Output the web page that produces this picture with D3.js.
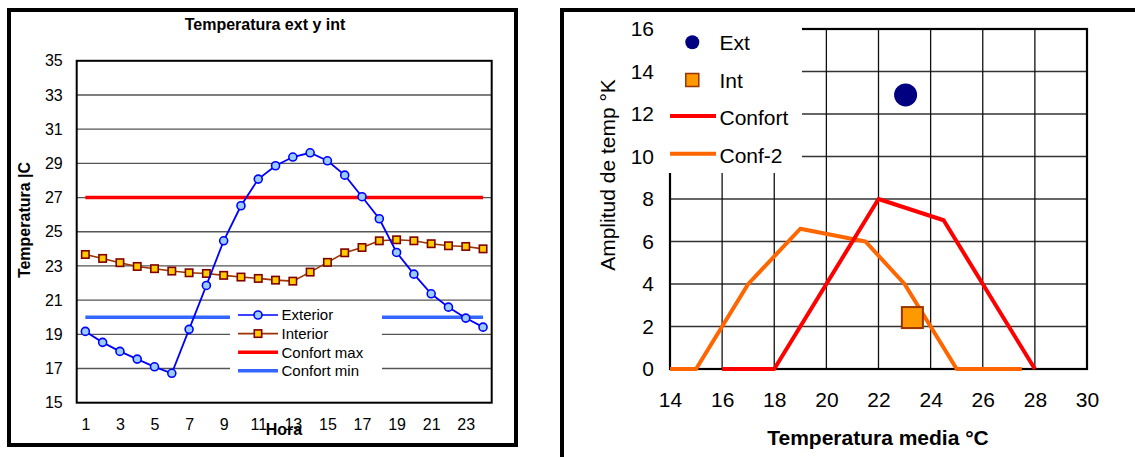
<!DOCTYPE html>
<html>
<head>
<meta charset="utf-8">
<script src="https://cdn.jsdelivr.net/npm/d3@7"></script>
<style>
  html, body { margin: 0; padding: 0; background: #fff; }
  svg { display: block; font-family: "Liberation Sans", Arial, Helvetica, sans-serif; }
</style>
</head>
<body>
<svg id="chart" width="1135" height="457"></svg>
<script>
// ---- Hourly temperatures (left panel) ----
const hours = [1, 2, 3, 4, 5, 6, 7, 8, 9, 10, 11, 12, 13, 14, 15, 16, 17, 18, 19, 20, 21, 22, 23, 24];
const exterior = [19.17, 18.53, 18.0, 17.55, 17.1, 16.72, 19.29, 21.86, 24.47, 26.52, 28.08, 28.86,
                  29.37, 29.62, 29.15, 28.31, 27.05, 25.76, 23.79, 22.52, 21.37, 20.59, 19.95, 19.42];
const interior = [23.67, 23.44, 23.19, 22.97, 22.84, 22.70, 22.60, 22.56, 22.45, 22.35, 22.27, 22.17,
                  22.11, 22.64, 23.21, 23.77, 24.08, 24.47, 24.53, 24.47, 24.30, 24.18, 24.14, 24.00];
const confortMax = [27, 27, 27, 27, 27, 27, 27, 27, 27, 27, 27, 27, 27, 27, 27, 27, 27, 27, 27, 27, 27, 27, 27, 27];
const confortMin = [20, 20, 20, 20, 20, 20, 20, 20, 20, 20, 20, 20, 20, 20, 20, 20, 20, 20, 20, 20, 20, 20, 20, 20];
const tempTicks = [15, 17, 19, 21, 23, 25, 27, 29, 31, 33, 35];
const hourTicks = [1, 3, 5, 7, 9, 11, 13, 15, 17, 19, 21, 23];

// ---- Mean temperature vs. daily amplitude (right panel) ----
const mediaTicks = [14, 16, 18, 20, 22, 24, 26, 28, 30];
const amplitudTicks = [0, 2, 4, 6, 8, 10, 12, 14, 16];
const confortMedia = [16, 18, 22, 24.5, 28];
const confortAmplitud = [0, 0, 8, 7, 0];
const conf2Media = [14, 15, 17, 19, 21.5, 23, 25, 27.5];
const conf2Amplitud = [0, 0, 4, 6.6, 6, 4, 0, 0];
const extMedia = [23.04];
const extAmplitud = [12.9];
const intMedia = [23.3];
const intAmplitud = [2.42];

const svg = d3.select("#chart");

// =================== LEFT PANEL ===================
(function () {
  const L = { left: 76.7, right: 491.7, top: 60.8, bottom: 402.7 };
  const g = svg.append("g");

  // outer frame
  g.append("rect").attr("x", 9).attr("y", 10).attr("width", 507).attr("height", 435)
    .attr("fill", "#fff").attr("stroke", "#000").attr("stroke-width", 4);

  const x = d3.scalePoint().domain(hours).range([L.left, L.right]).padding(0.5);
  const y = d3.scaleLinear().domain([15, 35]).range([L.bottom, L.top]);

  // horizontal grid
  g.append("g").selectAll("line").data(tempTicks.filter(t => t > 15 && t < 35)).join("line")
    .attr("x1", L.left).attr("x2", L.right)
    .attr("y1", d => y(d)).attr("y2", d => y(d))
    .attr("stroke", "#555").attr("stroke-width", 1.3);

  // plot border
  g.append("rect").attr("x", L.left).attr("y", L.top)
    .attr("width", L.right - L.left).attr("height", L.bottom - L.top)
    .attr("fill", "none").attr("stroke", "#000").attr("stroke-width", 2);

  // y tick labels
  const yAxis = g.append("g").attr("transform", `translate(${L.left},0)`)
    .call(d3.axisLeft(y).tickValues(tempTicks).tickSize(0).tickPadding(14).tickFormat(d3.format("d")));
  yAxis.select(".domain").remove();
  yAxis.selectAll("text").attr("font-size", 16).attr("fill", "#000")
    .attr("font-family", "Liberation Sans, Arial, sans-serif");

  // x tick labels
  const xAxis = g.append("g").attr("transform", `translate(0,${L.bottom})`)
    .call(d3.axisBottom(x).tickValues(hourTicks).tickSize(0).tickPadding(15.5));
  xAxis.select(".domain").remove();
  xAxis.selectAll("text").attr("font-size", 16).attr("fill", "#000")
    .attr("font-family", "Liberation Sans, Arial, sans-serif");

  const line = d3.line().x((d, i) => x(hours[i])).y(d => y(d));

  // comfort limits
  g.append("path").datum(confortMax).attr("d", line)
    .attr("fill", "none").attr("stroke", "#ff0000").attr("stroke-width", 3.4);
  g.append("path").datum(confortMin).attr("d", line)
    .attr("fill", "none").attr("stroke", "#3366ff").attr("stroke-width", 3.4);

  // interior
  g.append("path").datum(interior).attr("d", line)
    .attr("fill", "none").attr("stroke", "#993300").attr("stroke-width", 1.6);
  g.append("g").selectAll("rect").data(interior).join("rect")
    .attr("x", (d, i) => x(hours[i]) - 3.7).attr("y", d => y(d) - 3.7)
    .attr("width", 7.4).attr("height", 7.4)
    .attr("fill", "#ffcc00").attr("stroke", "#800000").attr("stroke-width", 1.6);

  // exterior
  g.append("path").datum(exterior).attr("d", line)
    .attr("fill", "none").attr("stroke", "#0000ff").attr("stroke-width", 1.8);
  g.append("g").selectAll("circle").data(exterior).join("circle")
    .attr("cx", (d, i) => x(hours[i])).attr("cy", d => y(d)).attr("r", 4)
    .attr("fill", "#99ccff").attr("stroke", "#0000ff").attr("stroke-width", 1.6);

  // legend
  const lg = g.append("g");
  lg.append("rect").attr("x", 230).attr("y", 304).attr("width", 152).attr("height", 77).attr("fill", "#fff");
  const items = [
    { name: "Exterior", color: "#0000ff", w: 1.6, marker: "circle" },
    { name: "Interior", color: "#993300", w: 1.6, marker: "square" },
    { name: "Confort max", color: "#ff0000", w: 3.4 },
    { name: "Confort min", color: "#3366ff", w: 3.4 }
  ];
  items.forEach((it, i) => {
    const cy = 315 + i * 18.6;
    lg.append("line").attr("x1", 238).attr("x2", 278).attr("y1", cy).attr("y2", cy)
      .attr("stroke", it.color).attr("stroke-width", it.w);
    if (it.marker === "circle") {
      lg.append("circle").attr("cx", 258).attr("cy", cy).attr("r", 4)
        .attr("fill", "#99ccff").attr("stroke", "#0000ff").attr("stroke-width", 1.6);
    } else if (it.marker === "square") {
      lg.append("rect").attr("x", 258 - 3.7).attr("y", cy - 3.7).attr("width", 7.4).attr("height", 7.4)
        .attr("fill", "#ffcc00").attr("stroke", "#800000").attr("stroke-width", 1.6);
    }
    lg.append("text").attr("x", 281.5).attr("y", cy).attr("dy", "0.36em")
      .attr("font-size", 15).attr("fill", "#000").text(it.name);
  });

  // titles
  g.append("text").attr("x", 265).attr("y", 30).attr("text-anchor", "middle")
    .attr("font-size", 16).attr("font-weight", "bold").text("Temperatura ext y int");
  g.append("text").attr("x", 284).attr("y", 435).attr("text-anchor", "middle")
    .attr("font-size", 16).attr("font-weight", "bold").text("Hora");
  g.append("text").attr("transform", "translate(30,220) rotate(-90)").attr("text-anchor", "middle")
    .attr("font-size", 16).attr("font-weight", "bold").text("Temperatura |C");
})();

// =================== RIGHT PANEL ===================
(function () {
  const R = { left: 670, right: 1087, top: 29, bottom: 369 };
  const g = svg.append("g");

  // outer frame (continues past the window edge)
  g.append("rect").attr("x", 562).attr("y", 10).attr("width", 600).attr("height", 470)
    .attr("fill", "#fff").attr("stroke", "#000").attr("stroke-width", 4);

  const x = d3.scaleLinear().domain([14, 30]).range([R.left, R.right]);
  const y = d3.scaleLinear().domain([0, 16]).range([R.bottom, R.top]);

  // grid
  g.append("g").selectAll("line").data(amplitudTicks.filter(t => t > 0 && t < 16)).join("line")
    .attr("x1", R.left).attr("x2", R.right)
    .attr("y1", d => y(d)).attr("y2", d => y(d))
    .attr("stroke", "#333").attr("stroke-width", 1.3);
  g.append("g").selectAll("line").data(mediaTicks.filter(t => t > 14 && t < 30)).join("line")
    .attr("y1", R.top).attr("y2", R.bottom)
    .attr("x1", d => x(d)).attr("x2", d => x(d))
    .attr("stroke", "#111").attr("stroke-width", 1.3);

  g.append("rect").attr("x", R.left).attr("y", R.top)
    .attr("width", R.right - R.left).attr("height", R.bottom - R.top)
    .attr("fill", "none").attr("stroke", "#000").attr("stroke-width", 2.2);

  const conf2 = conf2Media.map((m, i) => [m, conf2Amplitud[i]]);
  const confort = confortMedia.map((m, i) => [m, confortAmplitud[i]]);
  const line = d3.line().x(d => x(d[0])).y(d => y(d[1]));

  g.append("path").datum(conf2).attr("d", line)
    .attr("fill", "none").attr("stroke", "#ff6600").attr("stroke-width", 4).attr("stroke-linejoin", "round");
  g.append("path").datum(confort).attr("d", line)
    .attr("fill", "none").attr("stroke", "#ff0000").attr("stroke-width", 4).attr("stroke-linejoin", "round");

  // Ext point
  g.append("g").selectAll("circle").data(extMedia).join("circle")
    .attr("cx", d => x(d)).attr("cy", (d, i) => y(extAmplitud[i])).attr("r", 11.5)
    .attr("fill", "#000080");
  // Int point
  const s = 21;
  g.append("g").selectAll("rect").data(intMedia).join("rect")
    .attr("x", d => x(d) - s / 2).attr("y", (d, i) => y(intAmplitud[i]) - s / 2)
    .attr("width", s).attr("height", s)
    .attr("fill", "#ff9900").attr("stroke", "#993300").attr("stroke-width", 2);

  // legend
  const lg = g.append("g");
  lg.append("rect").attr("x", 662).attr("y", 20).attr("width", 140).attr("height", 153).attr("fill", "#fff");
  lg.append("circle").attr("cx", 692.3).attr("cy", 42.3).attr("r", 7).attr("fill", "#000080");
  lg.append("rect").attr("x", 692.3 - 6.5).attr("y", 80 - 6.5).attr("width", 13).attr("height", 13)
    .attr("fill", "#ff9900").attr("stroke", "#993300").attr("stroke-width", 1.5);
  lg.append("line").attr("x1", 670).attr("x2", 716).attr("y1", 116).attr("y2", 116)
    .attr("stroke", "#ff0000").attr("stroke-width", 4);
  lg.append("line").attr("x1", 670).attr("x2", 716).attr("y1", 153.7).attr("y2", 153.7)
    .attr("stroke", "#ff6600").attr("stroke-width", 4);
  const names = ["Ext", "Int", "Confort", "Conf-2"];
  const ys = [42.3, 80, 117.3, 155];
  names.forEach((n, i) => {
    lg.append("text").attr("x", 719.5).attr("y", ys[i]).attr("dy", "0.36em")
      .attr("font-size", 21).attr("fill", "#000").text(n);
  });

  // axes labels
  const yAxis = g.append("g").attr("transform", `translate(${R.left},0)`)
    .call(d3.axisLeft(y).tickValues(amplitudTicks).tickSize(0).tickPadding(16).tickFormat(d3.format("d")));
  yAxis.select(".domain").remove();
  yAxis.selectAll("text").attr("font-size", 21).attr("fill", "#000")
    .attr("font-family", "Liberation Sans, Arial, sans-serif");

  const xAxis = g.append("g").attr("transform", `translate(0,${R.bottom})`)
    .call(d3.axisBottom(x).tickValues(mediaTicks).tickSize(0).tickPadding(23).tickFormat(d3.format("d")));
  xAxis.select(".domain").remove();
  xAxis.selectAll("text").attr("font-size", 21).attr("fill", "#000")
    .attr("font-family", "Liberation Sans, Arial, sans-serif");

  g.append("text").attr("x", 878).attr("y", 445).attr("text-anchor", "middle")
    .attr("font-size", 21).attr("font-weight", "bold").text("Temperatura media °C");
  g.append("text").attr("transform", "translate(615,175) rotate(-90)").attr("text-anchor", "middle")
    .attr("font-size", 21).text("Amplitud de temp °K");
})();
</script>
</body>
</html>
